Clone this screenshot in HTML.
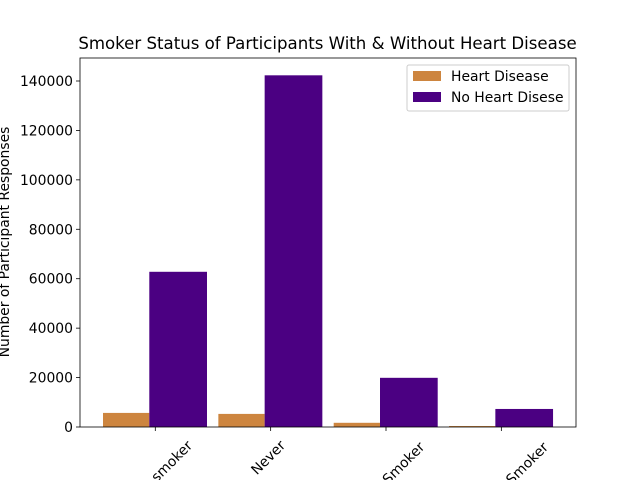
<!DOCTYPE html>
<html><head><meta charset="utf-8"><style>
html,body{margin:0;background:#fff;width:640px;height:480px;overflow:hidden}
svg{font-family:"DejaVu Sans","Liberation Sans",sans-serif;display:block;overflow:hidden}
</style></head><body>
<svg width="640" height="480">
<g id="plot"></g>
</svg>
<script>
const categories=["Former smoker","Never","Current Smoker","Occasional Smoker"];
const heartDisease=[5700,5300,1700,400];
const noHeartDisease=[62800,142300,19900,7300];
const yTicks=[0,20000,40000,60000,80000,100000,120000,140000];
const L=80,R=576,T=58,B=427;
const y=v=>B-v*346/140000;
const x=i=>155.3+i*115.35;
const ns="http://www.w3.org/2000/svg";
const g=document.getElementById('plot');
function mk(t,a,txt){const e=document.createElementNS(ns,t);for(const k in a)e.setAttribute(k,a[k]);if(txt!==undefined)e.textContent=txt;g.appendChild(e);return e;}
categories.forEach((c,i)=>{
 const o=mk('rect',{x:x(i)-52.3,y:y(heartDisease[i]),width:46.3,height:B-y(heartDisease[i]),fill:'#cd853f'});
 
 
 const p=mk('rect',{x:x(i)-6,y:y(noHeartDisease[i]),width:57.7,height:B-y(noHeartDisease[i]),fill:'#4b0082'});
 
 
 mk('line',{x1:x(i),x2:x(i),y1:B,y2:B+4,stroke:'#000','stroke-width':0.8});
 const w=c.length*8.0;
 const h=(w+14)*0.707;
 const cy=B+12+h/2;
 const cx=x(i)-2;
 const t=mk('text',{x:cx,y:cy,'font-size':13.9,'text-anchor':'middle','dominant-baseline':'central',transform:`rotate(-45 ${cx} ${cy})`},c);
 
 
});
yTicks.forEach(v=>{
 mk('line',{x1:L-4,x2:L,y1:y(v),y2:y(v),stroke:'#000','stroke-width':0.8});
 const t=mk('text',{x:L-7,y:y(v)+5,'font-size':13.9,'text-anchor':'end'},v);
 
 
});
const f=mk('rect',{x:L,y:T,width:R-L,height:B-T,fill:'none',stroke:'#000','stroke-width':0.8});


const ti=mk('text',{x:327.5,y:49,'font-size':16.6,'text-anchor':'middle'},'Smoker Status of Participants With & Without Heart Disease');


const yt=mk('text',{x:9,y:242,'font-size':13.9,'text-anchor':'middle',transform:'rotate(-90 9 242)'},'Number of Participant Responses');


const lg=mk('rect',{x:407,y:65,width:162,height:46,fill:'#fff',stroke:'#ccc',rx:2});


mk('rect',{x:413,y:71,width:28,height:10,fill:'#cd853f'});
const l1=mk('text',{x:451,y:81,'font-size':13.9},'Heart Disease');


mk('rect',{x:413,y:92,width:28,height:10,fill:'#4b0082'});
const l2=mk('text',{x:451,y:102,'font-size':13.9},'No Heart Disese');


</script>
</body></html>
